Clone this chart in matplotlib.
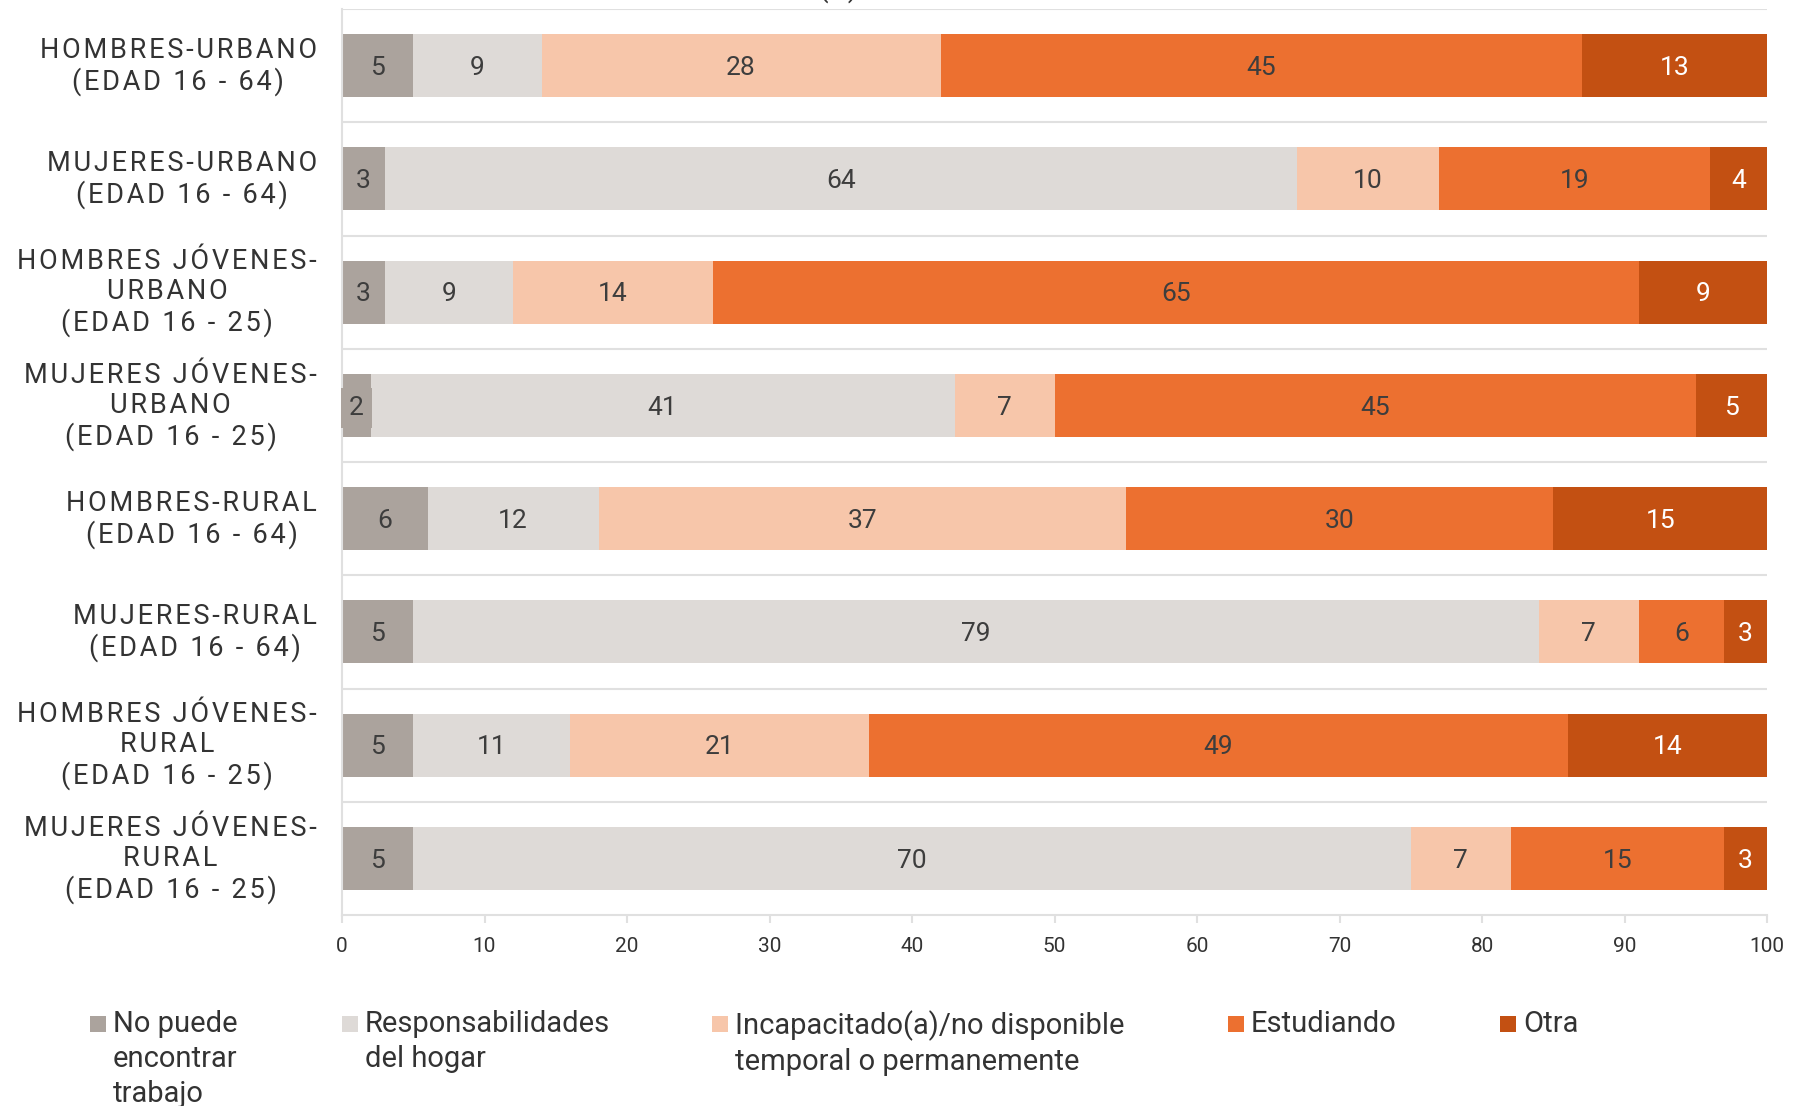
import matplotlib.pyplot as plt
import matplotlib.transforms as mtransforms
from matplotlib.patches import Rectangle

plt.rcParams['font.family'] = ['Roboto', 'DejaVu Sans']

categories = [
    "HOMBRES-URBANO\n(EDAD 16 - 64)",
    "MUJERES-URBANO\n(EDAD 16 - 64)",
    "HOMBRES JÓVENES-\nURBANO\n(EDAD 16 - 25)",
    "MUJERES JÓVENES-\nURBANO\n(EDAD 16 - 25)",
    "HOMBRES-RURAL\n(EDAD 16 - 64)",
    "MUJERES-RURAL\n(EDAD 16 - 64)",
    "HOMBRES JÓVENES-\nRURAL\n(EDAD 16 - 25)",
    "MUJERES JÓVENES-\nRURAL\n(EDAD 16 - 25)",
]

series_names = [
    "No puede\nencontrar\ntrabajo",
    "Responsabilidades\ndel hogar",
    "Incapacitado(a)/no disponible\ntemporal o permanemente",
    "Estudiando",
    "Otra",
]

no_puede = [5, 3, 3, 2, 6, 5, 5, 5]
responsabilidades = [9, 64, 9, 41, 12, 79, 11, 70]
incapacitado = [28, 10, 14, 7, 37, 7, 21, 7]
estudiando = [45, 19, 65, 45, 30, 6, 49, 15]
otra = [13, 4, 9, 5, 15, 3, 14, 3]

series = [no_puede, responsabilidades, incapacitado, estudiando, otra]
colors = ["#aba39d", "#dedad7", "#f7c6aa", "#ec7030", "#c35012"]
text_colors = ["#3d3d3d", "#3d3d3d", "#3d3d3d", "#3d3d3d", "white"]

xticks = [0, 10, 20, 30, 40, 50, 60, 70, 80, 90, 100]

grid_color = "#e0e0e0"


def spaced(label):
    # fake letter spacing with hair spaces
    return "\n".join("\u200a".join(line) for line in label.split("\n"))


fig = plt.figure(figsize=(18.02, 11.06), dpi=100)
ax = fig.add_axes([342 / 1802, 1 - 915 / 1106, (1767 - 342) / 1802, (915 - 9) / 1106])

n = len(categories)
ypos = list(range(n))
left = [0] * n
for vals, col, tcol in zip(series, colors, text_colors):
    ax.barh(ypos, vals, left=left, height=0.556, color=col, edgecolor="none")
    for i, v in enumerate(vals):
        cx = left[i] + v / 2
        bbox = None
        if v <= 2:
            bbox = dict(boxstyle="square,pad=0.3", facecolor=col, edgecolor="none")
        ax.text(cx, i + 0.02, str(v), ha="center", va="center", fontsize=19,
                color=tcol, bbox=bbox, clip_on=False, zorder=3)
    left = [l + v for l, v in zip(left, vals)]

ax.set_xlim(0, 100)
ax.set_ylim(n - 0.5, -0.5)

# horizontal separators between categories
for b in range(n):
    ax.axhline(b - 0.5, color=grid_color, lw=1.5, zorder=0)

ax.set_yticks(ypos)
ax.set_yticklabels([spaced(c) for c in categories], fontsize=19.5,
                   color="#333333", multialignment="center", linespacing=1.14)
ax.tick_params(axis="y", length=0, pad=18)
shift = mtransforms.ScaledTranslation(0, 4 / 100, fig.dpi_scale_trans)
for lab in ax.get_yticklabels():
    lab.set_transform(lab.get_transform() + shift)

ax.set_xticks(xticks)
ax.set_xticklabels([str(t) for t in xticks], fontsize=15, color="#333333")
ax.tick_params(axis="x", length=6, color=grid_color, width=1.5, pad=10)

for s in ["top", "right"]:
    ax.spines[s].set_visible(False)
for s in ["left", "bottom"]:
    ax.spines[s].set_color(grid_color)
    ax.spines[s].set_linewidth(1.5)

# cut-off title remnant at the very top
fig.text(838 / 1802, 1 + 3 / 1106, "(%)", ha="center", va="baseline",
         fontsize=20, color="#333333")

# legend drawn by hand so entries sit where the reference puts them
marker_x = [90, 342, 712, 1228, 1500]
for name, col, mx in zip(series_names, colors, marker_x):
    fig.patches.append(Rectangle((mx / 1802, 1 - 1032 / 1106), 16 / 1802, 16 / 1106,
                                 transform=fig.transFigure, facecolor=col,
                                 edgecolor="none"))
    fig.text((mx + 23) / 1802, 1 - 1010 / 1106, name, ha="left", va="top",
             fontsize=21, color="#333333", linespacing=1.32)

fig.savefig("out.png", dpi=100)
